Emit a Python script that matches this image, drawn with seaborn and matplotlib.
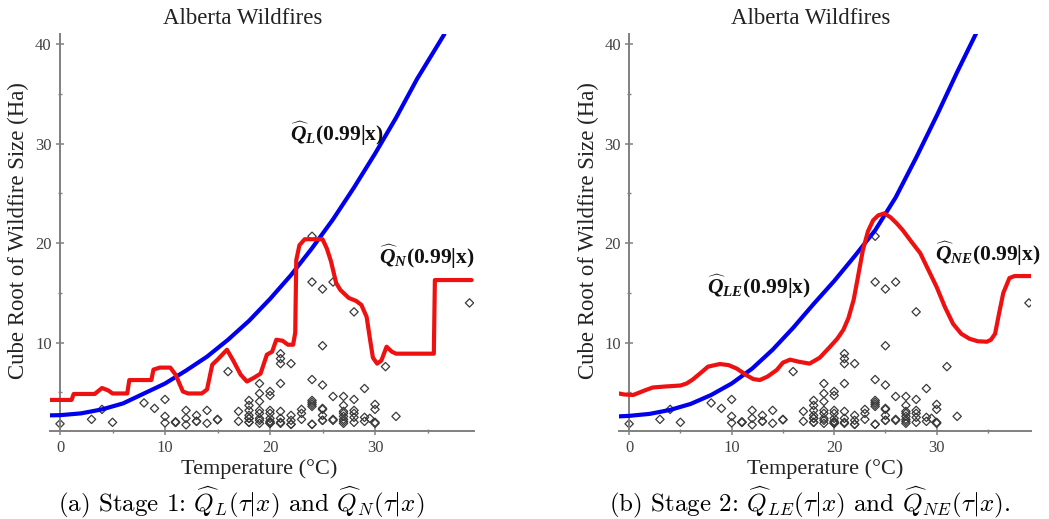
import matplotlib
matplotlib.use("Agg")
import matplotlib.pyplot as plt
import seaborn as sns
import pandas as pd
from matplotlib.ticker import MultipleLocator

# observed wildfires: temperature and cube root of size
temp_obs = [0, 3, 4, 5, 8, 9,
            10, 10, 10, 11, 11, 11, 12, 12, 12, 13, 13, 13, 14, 14, 15, 15, 16, 17, 17,
            18, 18, 18, 18, 18, 18, 18, 18,
            19, 19, 19, 19, 19, 19, 19, 19,
            20, 20, 20, 20, 20, 20, 20, 20, 20,
            21, 21, 21, 21, 21, 21, 21, 21,
            22, 22, 22, 22, 22, 23, 23, 23,
            24, 24, 24, 24, 24, 24, 24, 24, 24,
            25, 25, 25, 25, 25, 25, 25, 25,
            26, 26, 26, 26,
            27, 27, 27, 27, 27, 27, 27, 27,
            28, 28, 28, 28, 28, 28, 29, 29, 29, 29.5,
            30, 30, 30, 30, 31, 32, 39]
size_obs = [1.85, 2.3, 3.3, 2.0, 3.95, 3.4,
            4.3, 2.6, 1.95, 2.0, 2.0, 2.05, 3.2, 2.4, 1.75, 2.7, 2.1, 2.1, 3.2, 1.9, 2.3, 2.25, 7.1, 3.1, 2.1,
            4.2, 3.7, 3.2, 2.7, 2.4, 2.4, 2.0, 2.0,
            5.9, 4.9, 4.1, 3.2, 2.9, 2.4, 2.2, 1.9,
            5.1, 4.7, 3.2, 2.9, 2.4, 2.1, 2.0, 1.9, 1.9,
            8.9, 8.4, 7.9, 5.9, 3.1, 2.4, 2.0, 1.9,
            7.9, 2.7, 2.2, 1.8, 1.8, 3.3, 2.9, 2.3,
            20.7, 16.1, 6.3, 4.2, 4.0, 3.8, 3.6, 1.8, 1.8,
            15.4, 9.7, 5.75, 3.4, 3.3, 2.7, 2.2, 2.2,
            16.1, 4.6, 2.3, 2.2,
            4.6, 3.7, 3.1, 2.9, 2.6, 2.3, 2.1, 1.9,
            13.1, 4.3, 3.2, 2.9, 2.5, 2.0, 5.4, 2.5, 2.1, 2.4,
            3.8, 3.3, 2.0, 1.9, 7.6, 2.6, 14.0]

# Stage 1 curves
temp_L = [-1, 0, 2, 4, 6, 8, 10, 12, 14, 16, 18, 20, 22, 24, 26, 28, 30, 32, 34, 36.6]
q_L = [2.7, 2.72, 2.9, 3.3, 3.9, 4.9, 5.9, 7.2, 8.6, 10.3, 12.2, 14.4, 16.8, 19.5, 22.4, 25.6, 29.0, 32.6, 36.5, 41.0]

temp_N = [-1.1, 1.1, 1.3, 3.3, 4.0, 4.6, 5.0, 6.4, 6.6, 8.7, 8.9, 9.5, 10.5, 11.0, 11.7, 12.2, 13.5, 14.0,
          14.5, 15.0, 15.9, 16.5, 17.2, 17.8, 18.5, 19.1, 19.7, 20.2, 20.6, 21.2, 21.7, 22.2, 22.4, 22.5,
          22.8, 23.3, 25.0, 25.4, 25.8, 26.3, 26.7, 27.5, 28.2, 28.7, 29.2, 29.5, 29.8, 30.2, 30.6, 31.1,
          31.6, 32.0, 35.6, 35.7, 39.2]
q_N = [4.25, 4.25, 4.85, 4.85, 5.45, 5.2, 4.9, 4.9, 6.25, 6.25, 7.3, 7.5, 7.5, 6.8, 5.1, 4.9, 4.9, 5.3,
       7.8, 8.3, 9.3, 8.2, 6.8, 6.1, 6.5, 6.9, 8.8, 9.1, 10.3, 10.2, 9.8, 9.8, 11.0, 18.3,
       19.8, 20.4, 20.4, 19.5, 18.2, 16.0, 15.3, 14.5, 14.2, 13.8, 12.6, 10.5, 8.5, 7.9, 8.2, 9.6,
       9.1, 8.9, 8.9, 16.3, 16.3]

# Stage 2 curves
temp_LE = [-1, 0, 2, 4, 6, 8, 10, 12, 14, 16, 18, 20, 22, 24, 26, 28, 30, 32, 34]
q_LE = [2.6, 2.65, 2.85, 3.25, 3.85, 4.75, 5.9, 7.4, 9.3, 11.5, 13.9, 16.2, 18.7, 21.3, 24.6, 28.6, 32.8, 37.2, 41.4]

temp_NE = [-1.0, -0.5, 0.4, 1.5, 2.3, 3.5, 5.0, 5.6, 6.2, 6.9, 7.7, 8.85, 9.7, 10.5, 11.5, 12.1, 12.75,
           13.5, 14.4, 15.0, 15.7, 16.5, 17.6, 18.6, 19.6, 20.3, 20.9, 21.4, 21.9, 22.3, 22.8, 23.3, 23.8,
           24.3, 24.9, 25.5, 26.1, 26.7, 27.5, 28.4, 29.2, 30.0, 30.8, 31.6, 32.4, 33.2, 34.0, 34.9, 35.3,
           35.7, 36.1, 36.5, 37.1, 37.6, 39.3]
q_NE = [4.9, 4.8, 4.75, 5.2, 5.5, 5.6, 5.7, 5.9, 6.3, 6.9, 7.6, 7.86, 7.75, 7.4, 6.7, 6.35, 6.25,
        6.6, 7.26, 8.0, 8.3, 8.1, 7.9, 8.5, 9.6, 10.4, 11.3, 12.5, 14.3, 16.5, 19.3, 21.2, 22.3,
        22.8, 23.0, 22.6, 22.0, 21.3, 20.2, 19.0, 17.3, 15.6, 13.6, 11.9, 10.9, 10.4, 10.15, 10.1, 10.3,
        10.9, 13.0, 15.0, 16.5, 16.7, 16.7]

sns.set_theme(style="white")
plt.rcParams["font.family"] = ["Liberation Serif", "DejaVu Serif"]
plt.rcParams["mathtext.fontset"] = "custom"
plt.rcParams["mathtext.it"] = "Liberation Serif:italic:bold"
plt.rcParams["mathtext.rm"] = "Liberation Serif:bold"
plt.rcParams["mathtext.bf"] = "Liberation Serif:bold"

obs = pd.DataFrame({"temp": temp_obs, "size": size_obs})

fig = plt.figure(figsize=(10.49, 5.19), dpi=100)
ax1 = fig.add_axes([0.0472, 0.169, 0.4044, 0.765])
ax2 = fig.add_axes([0.590, 0.169, 0.3928, 0.765])

panels = [
    (ax1, temp_L, q_L, temp_N, q_N, (-1, 39.4)),
    (ax2, temp_LE, q_LE, temp_NE, q_NE, (-1, 39.2)),
]

for ax, tx, qb, tr, qr, xl in panels:
    sns.scatterplot(data=obs, x="temp", y="size", ax=ax, marker="D", s=18,
                    facecolor="none", edgecolor="#3a3a3a", linewidth=0.9, zorder=2)
    sns.lineplot(x=tx, y=qb, ax=ax, color="#0000ee", lw=3.0, sort=False,
                 estimator=None, zorder=3)
    sns.lineplot(x=tr, y=qr, ax=ax, color="#ee1111", lw=3.0, sort=False,
                 estimator=None, zorder=4)
    ax.set_xlim(*xl)
    ax.set_ylim(1.1, 41)
    ax.set_xlabel("")
    ax.set_ylabel("")
    ax.xaxis.set_major_locator(MultipleLocator(10))
    ax.xaxis.set_minor_locator(MultipleLocator(5))
    ax.yaxis.set_major_locator(MultipleLocator(10))
    ax.yaxis.set_minor_locator(MultipleLocator(5))
    ax.set_yticks([10, 20, 30, 40])
    for side in ["top", "right"]:
        ax.spines[side].set_visible(False)
    # y axis drawn through temperature 0
    ax.spines["left"].set_position(("data", 0))
    for side in ["left", "bottom"]:
        ax.spines[side].set_color("#808080")
        ax.spines[side].set_linewidth(1.4)
    ax.tick_params(which="major", direction="inout", length=6, width=1.1,
                   color="#808080", labelsize=12, labelcolor="#444444", pad=3)
    ax.tick_params(which="minor", direction="inout", length=3, width=1.0,
                   color="#808080")
    ax.tick_params(axis="both", which="both", bottom=True, left=True)

# titles, axis labels
for xc, yl in [(243, 18), (811, 588)]:
    fig.text(xc / 1049, 1 - 18 / 519, "Alberta Wildfires", ha="center", va="center",
             fontsize=16.5, color="#222222")
    fig.text(yl / 1049, 1 - 231 / 519, "Cube Root of Wildfire Size (Ha)", rotation=90,
             ha="center", va="center", fontsize=16.4, color="#222222")
for xc in [259, 825]:
    fig.text(xc / 1049, 1 - 469 / 519, "Temperature (°C)", ha="center", va="center",
             fontsize=16, color="#222222")

# curve labels
lab_kw = dict(fontsize=15.5, fontweight="bold", color="#111111", va="center", ha="left")
ax1.text(21.9, 31.0, r"$\widehat{Q}_{L}$(0.99|x)", **lab_kw)
ax1.text(30.4, 18.6, r"$\widehat{Q}_{N}$(0.99|x)", **lab_kw)
ax2.text(7.6, 15.6, r"$\widehat{Q}_{LE}$(0.99|x)", **lab_kw)
ax2.text(29.8, 19.0, r"$\widehat{Q}_{NE}$(0.99|x)", **lab_kw)

# captions
cap_kw = dict(fontsize=18, ha="center", va="center", family="cmr10",
              math_fontfamily="cm", color="black")
fig.text(241 / 1049, 1 - 502 / 519,
         r"(a) Stage 1: $\widehat{Q}_L(\tau|x)$ and $\widehat{Q}_N(\tau|x)$", **cap_kw)
fig.text(809 / 1049, 1 - 502 / 519,
         r"(b) Stage 2: $\widehat{Q}_{LE}(\tau|x)$ and $\widehat{Q}_{NE}(\tau|x)$.", **cap_kw)

fig.savefig("out.png", dpi=100)
